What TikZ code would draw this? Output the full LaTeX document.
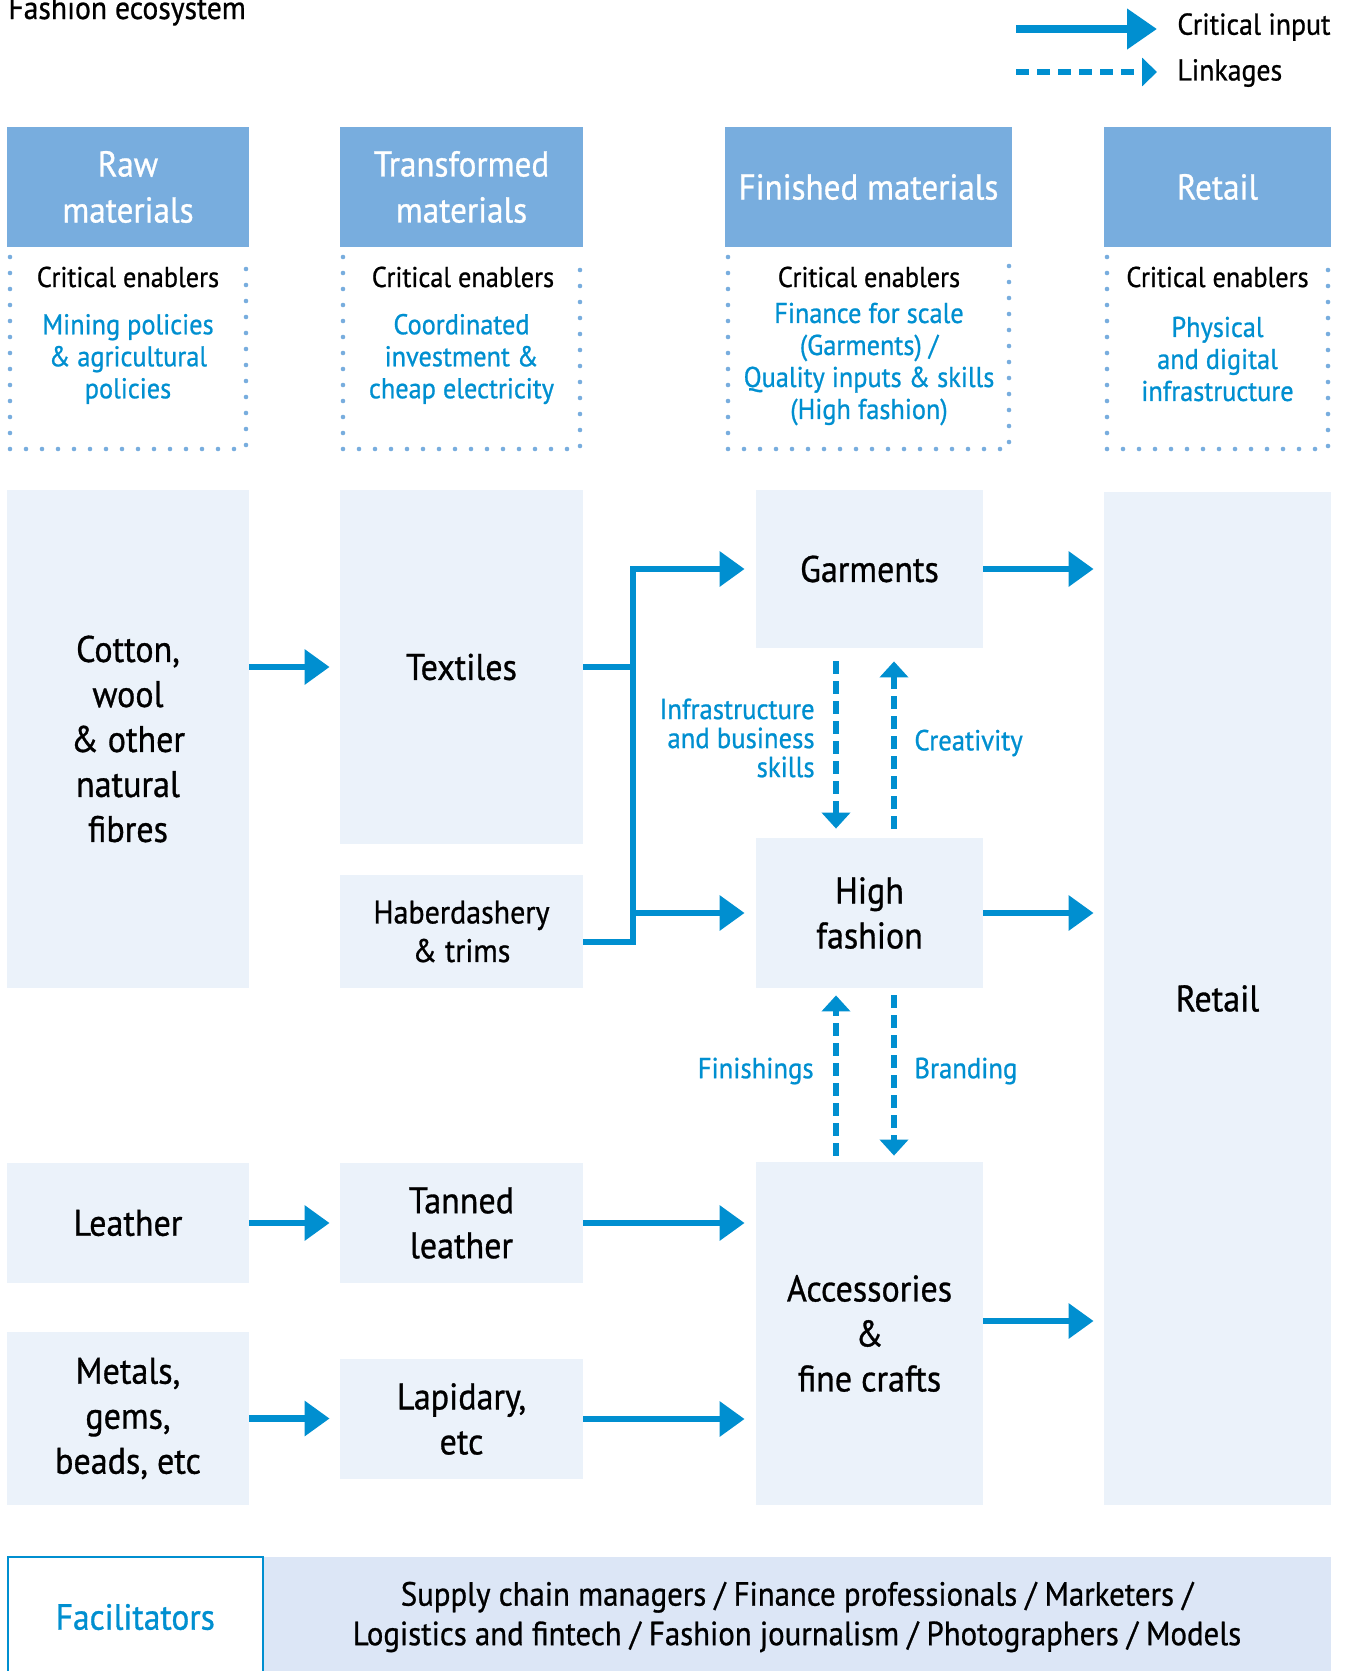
\documentclass[tikz,border=0pt]{standalone}
\usepackage{fontspec}
\setmainfont{PT Sans}[FakeStretch=0.92,FakeBold=0.8]
\usetikzlibrary{arrows.meta,calc}
\definecolor{hdrblue}{RGB}{120,173,222}
\definecolor{boxfill}{RGB}{235,242,250}
\definecolor{arrblue}{RGB}{0,143,208}
\definecolor{facfill}{RGB}{220,230,246}
\begin{document}
\begin{tikzpicture}[x=0.5pt,y=-0.5pt,
  hdr/.style={fill=hdrblue, text=white, align=center, inner sep=0pt,
    font=\fontsize{18}{23}\selectfont},
  cell/.style={fill=boxfill, align=center, inner sep=0pt,
    font=\fontsize{18.5}{22.5}\selectfont},
  smallcell/.style={cell, font=\fontsize{16.3}{19.25}\selectfont},
  cetitle/.style={align=center, inner sep=0pt, font=\fontsize{14.3}{16}\selectfont},
  cetext/.style={align=center, inner sep=0pt, text=arrblue, font=\fontsize{14.3}{16}\selectfont},
  lbl/.style={inner sep=0pt, text=arrblue, font=\fontsize{14.5}{14.5}\selectfont},
  dots/.style={draw=hdrblue, line width=2.3pt, line cap=round, dash pattern=on 0pt off 8pt},
  crit/.style={draw=arrblue, line width=3.25pt, -{Triangle[length=12.5pt,width=17pt]}},
  critline/.style={draw=arrblue, line width=3.25pt},
  link/.style={draw=arrblue, line width=2.75pt, dash pattern=on 6.5pt off 3.5pt,
    -{Triangle[length=8pt,width=14pt]}},
]
\useasboundingbox (0,0) rectangle (1347,1671);

% title
\node[anchor=base west, inner sep=0pt, font=\fontsize{16.1}{19}\selectfont] (title) at (8,19) {Fashion ecosystem};

% legend
\coordinate (lga) at (1016,29);
\coordinate (lgb) at (1157,29);
\coordinate (lgc) at (1016,72);
\coordinate (lgd) at (1157,72);
\draw[draw=arrblue, line width=3.75pt, -{Triangle[length=15pt,width=19.5pt]}] (lga) -- (lgb);
\draw[draw=arrblue, line width=2.75pt, dash pattern=on 6.5pt off 4pt, -{Triangle[length=7.5pt,width=14pt]}] (lgc) -- (lgd);
\node[anchor=west, inner sep=0pt, font=\fontsize{15.1}{17}\selectfont] (lgt1) at (1177,27) {Critical input};
\node[anchor=west, inner sep=0pt, font=\fontsize{15.1}{17}\selectfont] (lgt2) at (1177,73) {Linkages};

% headers
\node[hdr, minimum width=120.75pt, minimum height=60pt] (h1) at (128,187) {Raw\\materials};
\node[hdr, minimum width=121.5pt, minimum height=60pt] (h2) at (461.5,187) {Transformed\\materials};
\node[hdr, minimum width=143.75pt, minimum height=60pt] (h3) at (868.5,187) {Finished materials};
\node[hdr, minimum width=113.5pt, minimum height=60pt] (h4) at (1217.5,187) {Retail};

% dotted enabler frames
\draw[dots] (10,257) -- (10,449) -- (246,449) -- (246,257);
\draw[dots] (343,257) -- (343,449) -- (580,449) -- (580,257);
\draw[dots] (728,257) -- (728,449) -- (1009,449) -- (1009,257);
\draw[dots] (1107,257) -- (1107,449) -- (1328,449) -- (1328,257);

% critical enablers
\node[cetitle] (c1) at (128,277) {Critical enablers};
\node[cetitle] (c2) at (463,277) {Critical enablers};
\node[cetitle] (c3) at (869,277) {Critical enablers};
\node[cetitle] (c4) at (1217.5,277) {Critical enablers};
\node[cetext] (e1) at (128,359) {Mining policies\\\& agricultural\\policies};
\node[cetext] (e2) at (461.5,359) {Coordinated\\investment \&\\cheap electricity};
\node[cetext] (e3) at (869,364) {Finance for scale\\(Garments) /\\Quality inputs \& skills\\(High fashion)};
\node[cetext] (e4) at (1217.5,359) {Physical\\and digital\\infrastructure};

% main cells
\node[cell, minimum width=120.75pt, minimum height=249pt] (cotton) at (128,739) {Cotton,\\wool\\\& other\\natural\\fibres};
\node[cell, minimum width=121.5pt, minimum height=177pt] (textiles) at (461.5,667) {Textiles};
\node[smallcell, minimum width=121.5pt, minimum height=56.5pt] (haber) at (461.5,931.5) {Haberdashery\\\& trims};
\node[cell, minimum width=113.5pt, minimum height=79pt] (garments) at (869.5,569) {Garments};
\node[cell, minimum width=113.5pt, minimum height=75pt] (highf) at (869.5,913) {High\\fashion};
\node[cell, minimum width=113.5pt, minimum height=171.5pt] (acc) at (869.5,1333.5) {Accessories\\\&\\fine crafts};
\node[cell, minimum width=113.5pt, minimum height=506.5pt] (retail) at (1217.5,998.5) {Retail};
\node[cell, minimum width=120.75pt, minimum height=60pt] (leather) at (128,1223) {Leather};
\node[cell, minimum width=121.5pt, minimum height=60pt] (tanned) at (461.5,1223) {Tanned\\leather};
\node[cell, minimum width=120.75pt, minimum height=86.5pt] (metals) at (128,1418.5) {Metals,\\gems,\\beads, etc};
\node[cell, minimum width=121.5pt, minimum height=60pt] (lapid) at (461.5,1419) {Lapidary,\\etc};

% facilitators
\node[fill=facfill, align=center, inner sep=0pt, minimum width=534pt, minimum height=60pt,
  font=\fontsize{16.75}{19.75}\selectfont] (facr) at (797,1617)
  {Supply chain managers / Finance professionals / Marketers /\\Logistics and fintech / Fashion journalism / Photographers / Models};
\node[draw=arrblue, line width=1pt, fill=white, inner sep=0pt, minimum width=127.75pt, minimum height=60pt,
  text=arrblue, font=\fontsize{18.2}{22}\selectfont] (fac) at (135.25,1617) {Facilitators};

% critical input arrows
\coordinate (jt) at (garments.west -| 633,0);
\coordinate (jb) at (633,942);
\draw[crit, shorten >=5pt] (cotton.east |- textiles.west) -- (textiles.west);
\draw[critline] (textiles.east) -- (textiles.east -| jt);
\draw[crit, shorten >=5.5pt, line join=miter] (haber.east |- jb) -- (jb) -- (jt) -- (garments.west);
\draw[crit, shorten >=5.5pt] (highf.west -| jt) -- (highf.west);
\draw[crit, shorten >=5pt] (garments.east) -- (garments.east -| retail.west);
\draw[crit, shorten >=5pt] (highf.east) -- (highf.east -| retail.west);
\draw[crit, shorten >=5pt] ([yshift=6.25pt]acc.east) -- ([yshift=6.25pt]acc.east -| retail.west);
\draw[crit, shorten >=5pt] (leather.east) -- (tanned.west);
\draw[crit, shorten >=5.5pt] (tanned.east) -- (tanned.east -| acc.west);
\draw[crit, shorten >=5pt] (metals.east) -- (metals.east -| lapid.west);
\draw[crit, shorten >=5.5pt] (lapid.east) -- (lapid.east -| acc.west);

% linkages
\draw[link] ([xshift=-16.75pt,yshift=-6.5pt]garments.south) -- ([xshift=-16.75pt,yshift=4.5pt]highf.north);
\draw[link] ([xshift=12.25pt,yshift=4.5pt]highf.north) -- ([xshift=12.25pt,yshift=-6.5pt]garments.south);
\draw[link] ([xshift=-16.75pt,yshift=3pt]acc.north) -- ([xshift=-16.75pt,yshift=-3.5pt]highf.south);
\draw[link] ([xshift=12.25pt,yshift=-3.5pt]highf.south) -- ([xshift=12.25pt,yshift=3pt]acc.north);

\node[lbl, anchor=east, align=right] (l1) at (815,738) {Infrastructure\\and business\\skills};
\node[lbl, anchor=west] (l2) at (914,743) {Creativity};
\node[lbl, anchor=east] (l3) at (814,1071) {Finishings};
\node[lbl, anchor=west] (l4) at (914,1071) {Branding};
\end{tikzpicture}
\end{document}
